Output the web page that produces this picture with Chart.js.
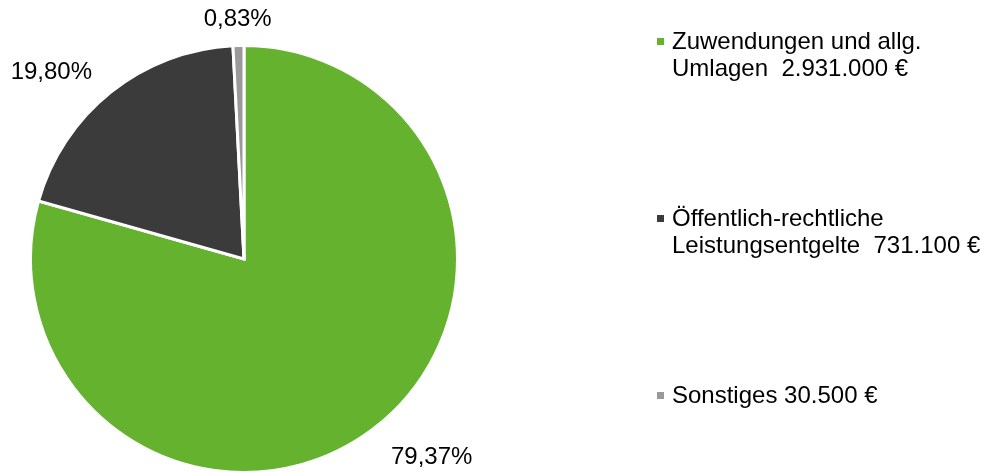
<!DOCTYPE html>
<html lang="de">
<head>
  <meta charset="UTF-8" />
  <title>Erträge</title>
  <script src="https://cdn.jsdelivr.net/npm/chart.js@4.4.1/dist/chart.umd.min.js"></script>
  <style>
    body {
      margin: 0;
      background: #fff;
      font-family: Arial, "Liberation Sans", sans-serif;
    }
    #wrap {
      position: relative;
      width: 985px;
      height: 472px;
      overflow: hidden;
    }
    #chart-box {
      position: absolute;
      left: 0;
      top: 0;
      width: 985px;
      height: 474px;
    }
    #legend {
      position: absolute;
      left: 654px;
      top: 27px;
      font-size: 24px;
      line-height: 27px;
      color: #000;
    }
    .item {
      position: relative;
      padding-left: 18px;
      margin-bottom: 123px;
      white-space: pre;
    }
    .item .box {
      position: absolute;
      left: 3px;
      top: 11px;
      width: 7px;
      height: 7px;
    }
  </style>
</head>
<body>
  <div id="wrap">
    <div id="chart-box"><canvas id="pieChart"></canvas></div>
    <div id="legend"></div>
  </div>

  <script>
    const categories = ['Zuwendungen und allg. Umlagen', 'Öffentlich-rechtliche Leistungsentgelte', 'Sonstiges'];
    const amounts = [2931000, 731100, 30500];
    // legend text as printed, line by line
    const legendLines = [
      ['Zuwendungen und allg.', 'Umlagen  2.931.000 €'],
      ['Öffentlich-rechtliche', 'Leistungsentgelte  731.100 €'],
      ['Sonstiges 30.500 €']
    ];
    const colors = ['#65b22f', '#3b3b3b', '#9a9a9a'];

    const total = amounts.reduce((a, b) => a + b, 0);
    const pctText = v => (v / total * 100).toFixed(2).replace('.', ',') + '%';

    // html legend
    const legend = document.getElementById('legend');
    legendLines.forEach((lines, i) => {
      const item = document.createElement('div');
      item.className = 'item';
      const box = document.createElement('span');
      box.className = 'box';
      box.style.background = colors[i];
      item.appendChild(box);
      lines.forEach((t, j) => {
        if (j) item.appendChild(document.createElement('br'));
        item.appendChild(document.createTextNode(t));
      });
      legend.appendChild(item);
    });

    // percentage labels just outside each slice
    const pctLabels = {
      id: 'pctLabels',
      afterDatasetsDraw(chart) {
        const { ctx } = chart;
        const meta = chart.getDatasetMeta(0);
        ctx.save();
        ctx.font = '24px Arial, "Liberation Sans", sans-serif';
        ctx.fillStyle = '#000';
        ctx.textBaseline = 'middle';
        meta.data.forEach((arc, i) => {
          const { x, y, startAngle, endAngle, outerRadius } = arc.getProps(['x', 'y', 'startAngle', 'endAngle', 'outerRadius'], true);
          const mid = (startAngle + endAngle) / 2;
          const r = outerRadius + 30;
          const lx = x + Math.cos(mid) * r;
          const ly = y + Math.sin(mid) * r + 4;
          const c = Math.cos(mid);
          ctx.textAlign = Math.abs(c) < 0.3 ? 'center' : (c > 0 ? 'left' : 'right');
          ctx.fillText(pctText(amounts[i]), lx, ly);
        });
        ctx.restore();
      }
    };

    new Chart(document.getElementById('pieChart'), {
      type: 'pie',
      data: {
        labels: categories,
        datasets: [{
          data: amounts,
          backgroundColor: colors,
          borderColor: '#ffffff',
          borderWidth: 3,
          borderJoinStyle: 'miter'
        }]
      },
      options: {
        responsive: true,
        maintainAspectRatio: false,
        animation: false,
        layout: { padding: { left: 29, top: 44, right: 526, bottom: 0 } },
        plugins: {
          legend: { display: false },
          tooltip: { enabled: false }
        }
      },
      plugins: [pctLabels]
    });
  </script>
</body>
</html>
